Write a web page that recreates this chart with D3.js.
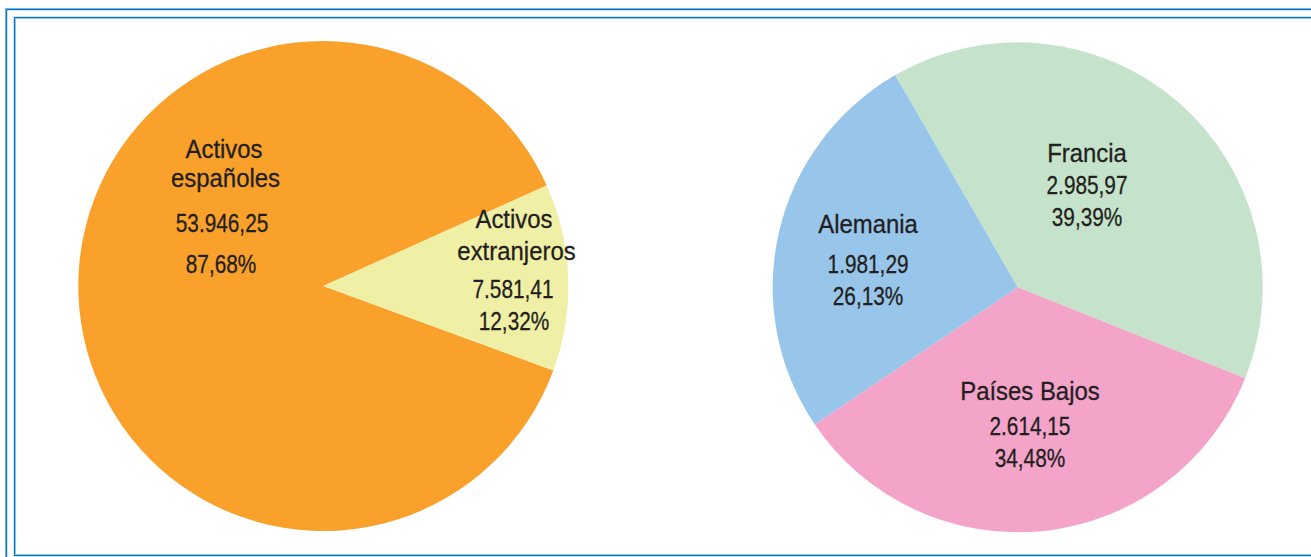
<!DOCTYPE html>
<html>
<head>
<meta charset="utf-8">
<script src="https://cdn.jsdelivr.net/npm/d3@7"></script>
<style>
  html, body { margin: 0; padding: 0; background: #fff; }
  svg { display: block; }
  text { font-family: "Liberation Sans", Arial, sans-serif; fill: #231f20; stroke: #231f20; stroke-width: 0.3px; }
</style>
</head>
<body>
<svg id="chart" width="1311" height="557"></svg>
<script>
// Cartera total: activos españoles frente a extranjeros
const totalCategories = ["Activos españoles", "Activos extranjeros"];
const totalValues = [53946.25, 7581.41];
const totalColors = ["#f9a12b", "#f0efa6"];

// Desglose de los activos extranjeros por país
const countryCategories = ["Francia", "Países Bajos", "Alemania"];
const countryValues = [2985.97, 2614.15, 1981.29];
const countryColors = ["#c5e3ca", "#f4a3c9", "#98c6eb"];

const es = d3.formatLocale({ decimal: ",", thousands: ".", grouping: [3], currency: ["", " €"] });
const fmtValue = es.format(",.2f");
const fmtPct = es.format(".2%");

const svg = d3.select("#chart");
const W = 1311, H = 557;

// Doble marco azul (recortado por la derecha y por abajo)
svg.append("rect").attr("x", 5.5).attr("y", 8.5).attr("width", W + 20).attr("height", H + 20)
  .attr("fill", "none").attr("stroke", "#8ec3e6").attr("stroke-width", 1.2);
svg.append("rect").attr("x", 6.5).attr("y", 9.5).attr("width", W + 20).attr("height", H + 20)
  .attr("fill", "none").attr("stroke", "#0b75bc").attr("stroke-width", 1.4);
svg.append("rect").attr("x", 14.5).attr("y", 17.5).attr("width", W + 20).attr("height", 538)
  .attr("fill", "none").attr("stroke", "#0b75bc").attr("stroke-width", 1.4);
svg.append("rect").attr("x", 15.5).attr("y", 18.5).attr("width", W + 20).attr("height", 536)
  .attr("fill", "none").attr("stroke", "#8ec3e6").attr("stroke-width", 1);

const radius = 245;
const deg = Math.PI / 180;
const FONT = 26;
const WORD_SX = 0.92;   // texto: ligeramente condensado
const NUM_SX = 0.80;    // cifras: más estrechas

function drawPie(cx, cy, categories, values, colors, startDeg, labelLayout, labelLines) {
  const total = d3.sum(values);
  const pie = d3.pie().sort(null).value(d => d)
    .startAngle(startDeg * deg).endAngle(startDeg * deg + 2 * Math.PI);
  const arcs = pie(values);
  const arc = d3.arc().innerRadius(0).outerRadius(radius);
  const g = svg.append("g").attr("transform", `translate(${cx},${cy})`);

  g.selectAll("path").data(arcs).join("path")
    .attr("d", arc)
    .attr("fill", (d, i) => colors[i]);

  arcs.forEach((a, i) => {
    const lay = labelLayout[i];
    const [x, y] = d3.pointRadial(lay.angle * deg, lay.r);
    const lines = labelLines(categories[i], values[i], values[i] / total);
    let acc = 0;
    lines.forEach((ln, k) => {
      acc += k === 0 ? 0 : lay.gaps[k - 1];
      const sx = ln.word ? WORD_SX : NUM_SX;
      const dx = lay.dx ? lay.dx[k] : 0;
      g.append("text")
        .attr("text-anchor", "middle")
        .attr("font-size", FONT)
        .attr("transform", `translate(${x + dx},${y + acc}) scale(${sx},1)`)
        .text(ln.text);
    });
  });
}

// Gráfico izquierdo
drawPie(323.3, 286, totalCategories, totalValues, totalColors, 110.15,
  [
    { angle: -38.36, r: 163.2, gaps: [29, 45, 41], dx: [2, 3.5, 0, -1] },
    { angle: 73.1, r: 199.3, gaps: [32, 38, 32], dx: [0, 2.5, -1, 0] }
  ],
  (name, v, p) => {
    const words = name.split(" ");
    return [
      { text: words[0], word: true },
      { text: words[1], word: true },
      { text: fmtValue(v) },
      { text: fmtPct(p) }
    ];
  });

// Gráfico derecho
drawPie(1017.7, 287.3, countryCategories, countryValues, countryColors, -30,
  [
    { angle: 28.95, r: 143.2, gaps: [32, 32] },
    { angle: 173.8, r: 113.4, gaps: [35, 32] },
    { angle: -70.06, r: 159.2, gaps: [40, 32] }
  ],
  (name, v, p) => [
    { text: name, word: true },
    { text: fmtValue(v) },
    { text: fmtPct(p) }
  ]);
</script>
</body>
</html>
